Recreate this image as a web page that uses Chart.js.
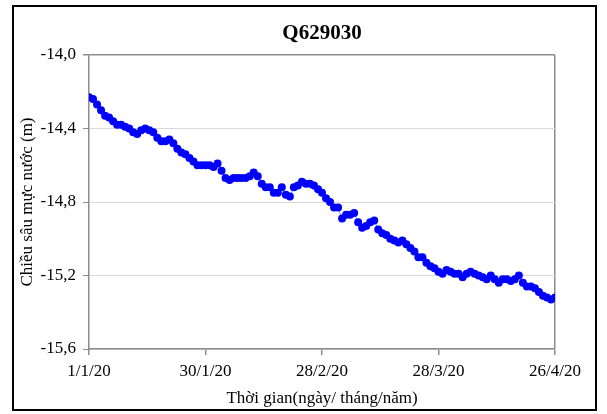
<!DOCTYPE html>
<html>
<head>
<meta charset="utf-8">
<script src="https://cdn.jsdelivr.net/npm/chart.js@4/dist/chart.umd.min.js"></script>
<style>
  html, body { margin: 0; padding: 0; background: #fff; }
  #wrap { position: relative; width: 607px; height: 414px; }
  #c { position: absolute; left: 0; top: 0; }
  #frame { position: absolute; left: 12px; top: 5px; width: 581px; height: 402px; border: 2px solid #000; pointer-events: none; }
</style>
</head>
<body>
<div id="wrap">
  <canvas id="c" width="607" height="414"></canvas>
  <div id="frame"></div>
</div>
<script>
// Days since 1/1/20 (index) -> groundwater depth (m)
const depthValues = [
  -14.23, -14.24, -14.27, -14.30, -14.33, -14.34, -14.36, -14.38, -14.38, -14.39,
  -14.40, -14.42, -14.43, -14.41, -14.40, -14.41, -14.42, -14.45, -14.47, -14.47,
  -14.46, -14.48, -14.51, -14.53, -14.54, -14.56, -14.58, -14.60, -14.60, -14.60,
  -14.60, -14.61, -14.59, -14.63, -14.67, -14.68, -14.67, -14.67, -14.67, -14.67,
  -14.66, -14.64, -14.66, -14.70, -14.72, -14.72, -14.75, -14.75, -14.72, -14.76,
  -14.77, -14.72, -14.71, -14.69, -14.70, -14.70, -14.71, -14.73, -14.75, -14.78,
  -14.80, -14.83, -14.83, -14.89, -14.87, -14.87, -14.86, -14.91, -14.94, -14.93,
  -14.91, -14.90, -14.95, -14.97, -14.98, -15.00, -15.01, -15.02, -15.01, -15.03,
  -15.05, -15.07, -15.10, -15.10, -15.13, -15.15, -15.16, -15.18, -15.19, -15.17,
  -15.18, -15.19, -15.19, -15.21, -15.19, -15.18, -15.19, -15.20, -15.21, -15.22,
  -15.20, -15.22, -15.24, -15.22, -15.22, -15.23, -15.22, -15.20, -15.24, -15.26,
  -15.26, -15.27, -15.29, -15.31, -15.32, -15.33, -15.32
];
const dayIndex = depthValues.map((_, i) => i);
const xTickLabels = ['1/1/20', '30/1/20', '28/2/20', '28/3/20', '26/4/20'];
const xTickDays = [0, 29, 58, 87, 116];
const yTickValues = [-15.6, -15.2, -14.8, -14.4, -14.0];

const chartTitle = 'Q629030';
const xTitle = 'Thời gian(ngày/ tháng/năm)';
const yTitle = 'Chiều sâu mực nước (m)';

const serif = '"Liberation Serif", "Times New Roman", serif';

const titlePlugin = {
  id: 'centerTitle',
  afterDraw(chart) {
    const { ctx, chartArea } = chart;
    ctx.save();
    ctx.font = 'bold 21px ' + serif;
    ctx.fillStyle = '#000';
    ctx.textAlign = 'center';
    ctx.textBaseline = 'middle';
    ctx.fillText(chartTitle, (chartArea.left + chartArea.right) / 2, 34);
    ctx.restore();
  }
};

new Chart(document.getElementById('c'), {
  type: 'line',
  data: {
    labels: dayIndex,
    datasets: [{
      data: depthValues,
      borderColor: '#55aaff',
      borderWidth: 1,
      pointRadius: 4,
      pointHoverRadius: 4,
      pointBackgroundColor: '#0000ff',
      pointBorderWidth: 0,
      tension: 0
    }]
  },
  options: {
    responsive: false,
    animation: false,
    devicePixelRatio: 1,
    layout: { padding: { left: 11, right: 52, top: 55, bottom: 0 } },
    plugins: { legend: { display: false }, tooltip: { enabled: false }, title: { display: false } },
    scales: {
      x: {
        type: 'linear',
        min: 0,
        max: 116,
        afterBuildTicks(scale) { scale.ticks = xTickDays.map(v => ({ value: v })); },
        afterFit(scale) { scale.height = 65; },
        ticks: {
          autoSkip: false,
          maxRotation: 0,
          padding: 6,
          color: '#000',
          font: { family: serif, size: 17 },
          callback: (v, i) => xTickLabels[i]
        },
        grid: {
          drawOnChartArea: true,
          color: (ctx) => ctx.index === xTickDays.length - 1 ? '#8c8c8c' : 'rgba(0,0,0,0)',
          tickColor: '#8c8c8c',
          tickLength: 6,
          lineWidth: 1.5
        },
        border: { display: true, color: '#8c8c8c', width: 1.5 },
        title: {
          display: true,
          text: xTitle,
          color: '#000',
          font: { family: serif, size: 17 },
          padding: { top: 0, bottom: 5 }
        }
      },
      y: {
        min: -15.6,
        max: -14.0,
        afterBuildTicks(scale) { scale.ticks = yTickValues.map(v => ({ value: v })); },
        afterFit(scale) { scale.width = 78; },
        ticks: {
          padding: 7,
          color: '#000',
          font: { family: serif, size: 17 },
          callback: (v) => Number(v).toFixed(1).replace('.', ',')
        },
        grid: {
          color: (ctx) => ctx.index === yTickValues.length - 1 ? '#8c8c8c' : '#d9d9d9',
          tickColor: '#8c8c8c',
          tickLength: 6,
          lineWidth: (ctx) => ctx.index === yTickValues.length - 1 ? 1.5 : 1
        },
        border: { display: true, color: '#8c8c8c', width: 1.5 },
        title: {
          display: true,
          text: yTitle,
          color: '#000',
          font: { family: serif, size: 17 },
          padding: { top: 6, bottom: 0 }
        }
      }
    }
  },
  plugins: [titlePlugin]
});
</script>
</body>
</html>
